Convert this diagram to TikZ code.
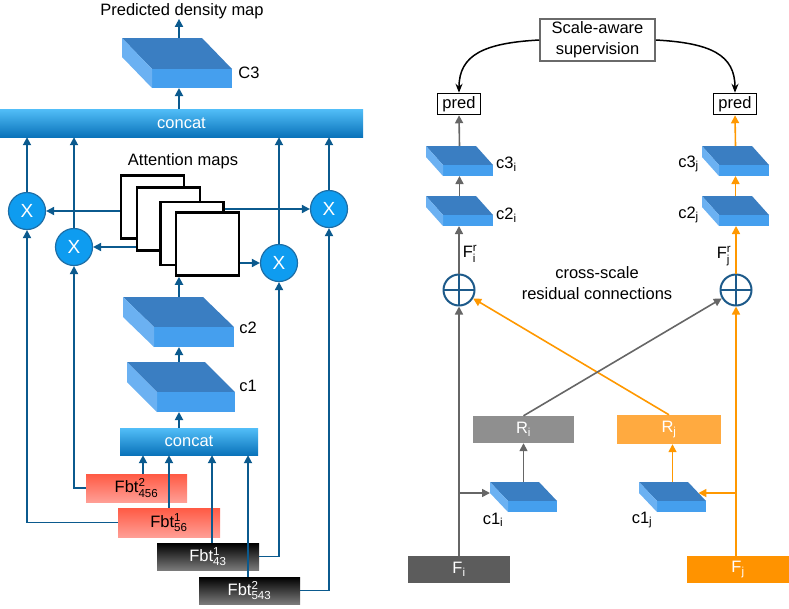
\documentclass[tikz,border=0pt]{standalone}
\usepackage{amsmath}
\usepackage{fontspec}
\setmainfont{Liberation Sans}
\usetikzlibrary{arrows.meta,calc}
\definecolor{lblue}{HTML}{0B5A8E}
\definecolor{circfill}{HTML}{0E9CF0}
\definecolor{circedge}{HTML}{1E6EA6}
\definecolor{slabtop}{HTML}{3A7EC2}
\definecolor{slabfront}{HTML}{459FEE}
\definecolor{slabside}{HTML}{6BB1F2}
\definecolor{cattop}{HTML}{52BEF8}
\definecolor{catbot}{HTML}{0A73BA}
\definecolor{redtop}{HTML}{FF5A44}
\definecolor{redbot}{HTML}{FF9E95}
\definecolor{blkbot}{HTML}{7A7A7A}
\definecolor{gline}{HTML}{666666}
\definecolor{oline}{HTML}{FF9800}
\definecolor{rigrey}{HTML}{8F8F8F}
\definecolor{rjorange}{HTML}{FFAA40}
\definecolor{figrey}{HTML}{5C5C5C}
\definecolor{fjorange}{HTML}{FF9300}
\definecolor{plusblue}{HTML}{1D5A8A}
\definecolor{supgrey}{HTML}{6A6A6A}

\newcommand\supsub[2]{$^{\text{#1}}_{\text{#2}}$}
\newcommand\myslab[7]{%
  \fill[slabtop] (#2,#3) -- ({#2+#4},#3) -- ({#2+#4+#5},{#3+#6}) -- ({#2+#5},{#3+#6}) -- cycle;
  \fill[slabfront] ({#2+#5},{#3+#6}) rectangle ({#2+#4+#5},{#3+#6+#7});
  \fill[slabside] (#2,#3) -- ({#2+#5},{#3+#6}) -- ({#2+#5},{#3+#6+#7}) -- (#2,{#3+#7}) -- cycle;
  \pgfmathsetmacro\slabW{#4+#5}\pgfmathsetmacro\slabH{#6+#7}%
  \node[inner sep=0pt, outer sep=0pt, minimum width=\slabW pt, minimum height=\slabH pt, anchor=north west] (#1) at (#2,#3) {};
  \coordinate (#1-le) at (#2,{#3+#7});
  \coordinate (#1-re) at ({#2+#4+0.58*#5},{#3+0.58*#6});
}

\begin{document}
\begin{tikzpicture}[x=1pt,y=-1pt,
  every node/.style={font=\fontsize{16.5}{21}\selectfont, inner sep=0pt},
  tip/.style={-{Triangle[length=8pt,width=8pt]}},
  larr/.style={draw=lblue, line width=1.8pt, tip},
  garr/.style={draw=gline, line width=1.6pt, tip},
  oarr/.style={draw=oline, line width=1.6pt, tip},
  catbar/.style={top color=cattop, bottom color=catbot, text=white},
  xcirc/.style={circle, fill=circfill, draw=circedge, line width=1.2pt, minimum size=37pt, text=white, font=\fontsize{19}{20}\selectfont},
  attsq/.style={draw=black, fill=white, line width=2.5pt, minimum width=63pt, minimum height=63pt},
  redbox/.style={top color=redtop, bottom color=redbot, minimum width=101pt, minimum height=28pt},
  blkbox/.style={top color=black, bottom color=blkbot, text=white, minimum width=102pt, minimum height=27pt},
  predbox/.style={draw=black, line width=1.5pt, minimum width=43pt, minimum height=21pt},
  oplus/.style={circle, draw=plusblue, line width=2pt, fill=white, minimum size=31pt,
    path picture={\draw[plusblue, line width=2pt] (path picture bounding box.north) -- (path picture bounding box.south) (path picture bounding box.west) -- (path picture bounding box.east);}},
  curvearr/.style={draw=black, line width=1.5pt, -{Stealth[length=9pt,width=7pt]}}
]
\useasboundingbox (0,0) rectangle (789,608);

% ---------- left ----------
\coordinate (colL) at (179,0);
\node (title) at (182,11) {Predicted density map};
\node[catbar, minimum width=363pt, minimum height=28pt] (cat1) at (181.5,123) {concat};
\node[catbar, minimum width=138pt, minimum height=27pt] (cat2) at (189,441.5) {concat};

\myslab{C3}{122}{38}{80}{30}{31}{19}
\myslab{c2}{123}{297}{80}{31}{30}{20}
\myslab{c1}{127}{362}{78}{30}{30}{20}
\node (lC3) at (249,73) {C3};
\node (lc2) at (248,328) {c2};
\node (lc1) at (248,386) {c1};

\node (attlabel) at (183,161) {Attention maps};
\node[attsq] (att1) at (152.5,207) {};
\node[attsq] (att2) at (168.5,219) {};
\node[attsq] (att3) at (192,233.5) {};
\node[attsq] (att4) at (207.5,244) {};

\node[xcirc] (x1) at (27,211) {X};
\node[xcirc] (x2) at (74,247) {X};
\node[xcirc] (x3) at (279,263) {X};
\node[xcirc] (x4) at (329,209) {X};

\node[redbox] (fbt456) at (136.5,488) {Fbt\supsub{2}{456}};
\node[redbox, minimum width=102pt, minimum height=29pt] (fbt56) at (169,522.5) {Fbt\supsub{1}{56}};
\node[blkbox] (fbt43) at (208,556.5) {Fbt\supsub{1}{43}};
\node[blkbox, minimum width=101pt] (fbt543) at (249.5,590.5) {Fbt\supsub{2}{543}};

\draw[larr] (C3.north -| colL) -- (title.south -| colL);
\draw[larr] (cat1.north -| colL) -- (C3.south -| colL);
\draw[larr] (cat2.north -| colL) -- (c1.south -| colL);
\draw[larr] (c1.north -| colL) -- (c2.south -| colL);
\draw[larr] (c2.north -| colL) -- (att4.south -| colL);

\draw[larr] (att1.west |- x1) -- (x1);
\draw[larr] (att2.west |- x2) -- (x2);
\draw[larr] (att3.east |- x4) -- (x4);
\draw[larr] (att4.east |- x3) -- (x3);

\draw[larr] (x1) -- (x1 |- cat1.south);
\draw[larr] (x2) -- (x2 |- cat1.south);
\draw[larr] (x3) -- (x3 |- cat1.south);
\draw[larr] (x4) -- (x4 |- cat1.south);

\draw[larr] (fbt56.west) -| (x1);
\draw[larr] (fbt456.west) -| (x2);
\draw[larr] (fbt43.east) -| (x3);
\draw[larr] (fbt543.east) -| (x4);

\draw[larr] ([xshift=6.5pt]fbt456.north) -- ([xshift=6.5pt]fbt456.north |- cat2.south);
\draw[larr] (fbt56.north) -- (fbt56.north |- cat2.south);
\draw[larr] ([xshift=4pt]fbt43.north) -- ([xshift=4pt]fbt43.north |- cat2.south);
\draw[larr] ([xshift=-1.5pt]fbt543.north) -- ([xshift=-1.5pt]fbt543.north |- cat2.south);

% ---------- right ----------
\node[draw=supgrey, line width=1.6pt, minimum width=115pt, minimum height=42pt, align=center] (sup) at (597.5,40) {Scale-aware\\supervision};
\node[predbox] (predL) at (459,104) {pred};
\node[predbox] (predR) at (735,104) {pred};
\draw[curvearr] (sup.west) .. controls +(-55,3) and +(0,-38) .. (predL.north);
\draw[curvearr] (sup.east) .. controls +(55,3) and +(0,-38) .. (predR.north);

\myslab{c3i}{426}{146}{50}{17}{19}{11}
\myslab{c2i}{426}{196}{50}{17}{19}{11}
\myslab{c3j}{702}{146}{50}{17}{19}{11}
\myslab{c2j}{702}{196}{50}{17}{19}{11}
\myslab{c1i}{490}{482}{49}{18}{19}{11}
\myslab{c1j}{639}{482}{49}{18}{19}{11}

\node[anchor=west] (lc3i) at (496,164) {c3\textsubscript{i}};
\node[anchor=west] (lc2i) at (496,215) {c2\textsubscript{i}};
\node[anchor=east] (lc3j) at (699,164) {c3\textsubscript{j}};
\node[anchor=east] (lc2j) at (699,215) {c2\textsubscript{j}};
\node (lc1i) at (493,520) {c1\textsubscript{i}};
\node (lc1j) at (642,520) {c1\textsubscript{j}};
\node (lFri) at (470,254) {F\supsub{r}{i}};
\node (lFrj) at (724,256) {F\supsub{r}{j}};
\node[align=center] (cross) at (597,283) {cross-scale\\residual connections};

\node[oplus] (plusL) at (459,290) {};
\node[oplus] (plusR) at (736,290) {};

\node[fill=rigrey, text=white, minimum width=101pt, minimum height=27pt] (Ri) at (523.5,429.5) {R\textsubscript{i}};
\node[fill=rjorange, text=white, minimum width=104pt, minimum height=29pt] (Rj) at (669,429.5) {R\textsubscript{j}};
\node[fill=figrey, text=white, minimum width=102pt, minimum height=27pt] (Fi) at (459,569.5) {F\textsubscript{i}};
\node[fill=fjorange, text=white, minimum width=102pt, minimum height=27pt] (Fj) at (738,569.5) {F\textsubscript{j}};

\draw[oarr] (Rj.north) -- (plusL);
\draw[oarr] (Fj.north -| plusR) -- (plusR);
\draw[oarr] (plusR |- c1j-re) -- (c1j-re);
\draw[oarr] (c1j.north) -- (c1j.north |- Rj.south);
\draw[oarr] (plusR) -- (plusR |- c2j.south);
\draw[oarr] (c2j.north) -- (c3j.south);
\draw[oarr] (c3j.north) -- (predR.south);

\draw[garr] (Ri.north) -- (plusR);
\draw[garr] (Fi.north) -- (plusL);
\draw[garr] (plusL |- c1i-le) -- (c1i-le);
\draw[garr] (c1i.north) -- (c1i.north |- Ri.south);
\draw[garr] (plusL) -- (plusL |- c2i.south);
\draw[garr] (c2i.north) -- (c3i.south);
\draw[garr] (c3i.north) -- (predL.south);
\end{tikzpicture}
\end{document}
